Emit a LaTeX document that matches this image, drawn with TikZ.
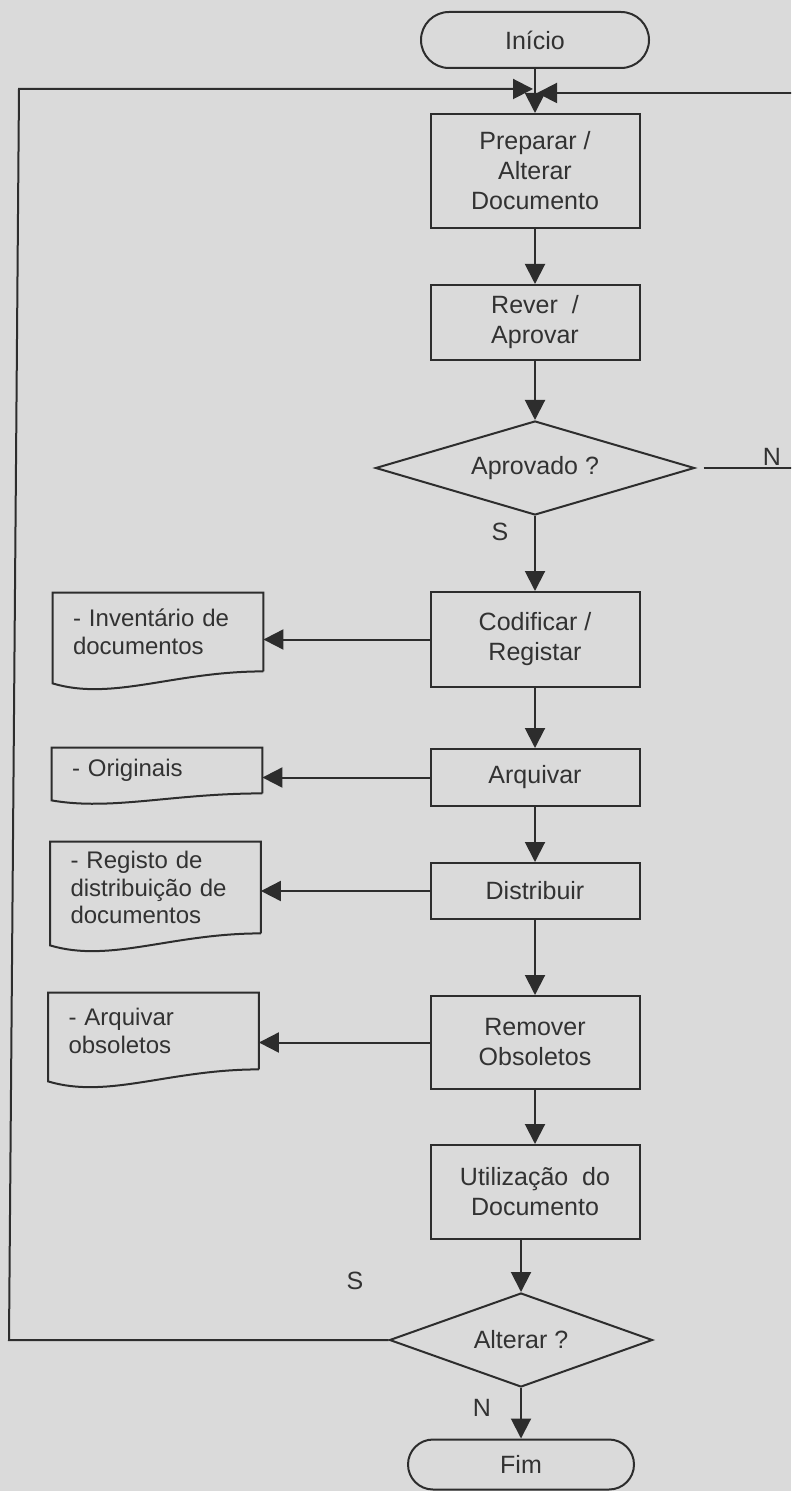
\documentclass[tikz,border=0pt]{standalone}
\usepackage{fontspec}
\setmainfont{Liberation Sans}
\usetikzlibrary{shapes.geometric,arrows.meta}
\definecolor{bg}{RGB}{218,218,218}
\definecolor{ink}{RGB}{45,45,45}
\definecolor{txt}{RGB}{50,50,50}
\begin{document}
\begin{tikzpicture}[x=0.5pt,y=-0.5pt,
  every node/.style={text=txt, font=\fontsize{12.5}{15}\selectfont},
  line/.style={draw=ink, line width=1pt},
  arr/.style={line, -{Triangle[length=10pt,width=10pt]}},
  procbox/.style={line, rectangle, minimum width=104.5pt, align=center, inner sep=0pt},
  term/.style={line, rectangle, rounded corners=14pt, minimum width=114pt, minimum height=28pt},
  decision/.style={line, diamond, inner sep=0pt, aspect=3.4},
  docbox/.style={rectangle, align=left, inner xsep=10pt, inner ysep=0pt, text width=85pt, minimum width=105pt, font=\fontsize{12}{13.75}\selectfont},
  lbl/.style={inner sep=0pt}
]
\fill[bg] (0,0) rectangle (791,1491);
\clip (0,0) rectangle (791,1491);

% main column
\node[term] (ini) at (535,40) {Início};
\node[procbox, minimum height=57pt] (prep) at (535,171) {Preparar /\\Alterar\\Documento};
\node[procbox, minimum height=37.5pt] (rev) at (535,322.5) {Rever~ /\\Aprovar};
\node[decision, minimum width=159.5pt, minimum height=47pt] (apr) at (535,468) {Aprovado ?};
\node[procbox, minimum height=47.5pt] (cod) at (535,639.5) {Codificar /\\Registar};
\node[procbox, minimum height=28.5pt] (arq) at (535,777.5) {Arquivar};
\node[procbox, minimum height=28pt] (dist) at (535,891) {Distribuir};
\node[procbox, minimum height=46.5pt] (rem) at (535,1042.5) {Remover\\Obsoletos};
\node[procbox, minimum height=47pt] (util) at (535,1192) {Utilização~ do\\Documento};
\node[decision, minimum width=131.5pt, minimum height=47pt] (alt) at (521,1340) {Alterar ?};
\node[term, minimum width=113pt, minimum height=25pt, rounded corners=12.5pt] (fim) at (521,1464.5) {Fim};

% documents
\node[docbox, minimum height=39pt] (d1) at (158,632) {- Inventário de\\documentos};
\node[docbox, minimum height=22.5pt] (d2) at (157,770.5) {- Originais};
\node[docbox, minimum height=45.5pt] (d3) at (155.5,887.5) {- Registo de\\distribuição de\\documentos};
\node[docbox, minimum height=38pt] (d4) at (153.5,1031) {- Arquivar\\obsoletos};

\foreach \d/\s in {d1/6pt, d2/3.5pt, d3/6pt, d4/6pt}{
  \draw[line] (\d.south east) -- (\d.north east) -- (\d.north west) -- ([yshift=-\s]\d.south west)
    .. controls +(30pt,-1.5*\s) and ([xshift=-45pt]\d.south east) .. (\d.south east);
}

% labels
\node[lbl] (nA) at (772,457) {N};
\node[lbl] (sA) at (500,532) {S};
\node[lbl] (sB) at (355,1281) {S};
\node[lbl] (nB) at (482,1408) {N};

% junction
\coordinate (jl) at (533,89);
\coordinate (jr) at (537,93);

% main flow
\draw[arr] (ini) -- (prep);
\draw[arr] (prep) -- (rev);
\draw[arr] (rev) -- (apr);
\draw[arr] (apr) -- (cod);
\draw[arr] (cod) -- (arq);
\draw[arr] (arq) -- (dist);
\draw[arr] (dist) -- (rem);
\draw[arr] (rem) -- (util);
\draw[arr] (util.south -| alt.north) -- (alt.north);
\draw[arr] (alt) -- (fim);

% side outputs
\draw[arr] (cod.west) -- (d1.east |- cod.west);
\draw[arr] (arq.west) -- (d2.east |- arq.west);
\draw[arr] (dist.west) -- (d3.east |- dist.west);
\draw[arr] (rem.west) -- (d4.east |- rem.west);

% loops
\draw[arr] (alt.west) -- (9,1340) -- (19,89) -- (jl);
\draw[arr] ([xshift=4pt]apr.east) -- (830,468) -- (830,93) -- (jr);
\end{tikzpicture}
\end{document}
